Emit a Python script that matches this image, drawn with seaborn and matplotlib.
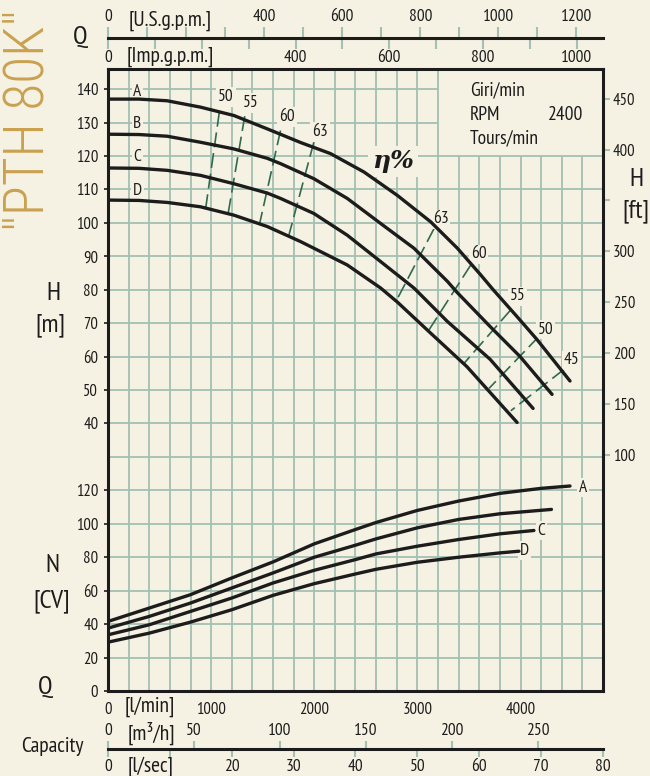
import numpy as np
import pandas as pd
import matplotlib
matplotlib.use("Agg")
import matplotlib.pyplot as plt
import seaborn as sns
from matplotlib import font_manager

# ---------------- data ----------------
curve_names = ["A", "B", "C", "D"]

# Head curves H [m] vs Q [l/min]
A_Q = [0, 300, 573, 896, 1220, 1544, 1869, 2158, 2482, 2806, 3129, 3388, 3615, 3735, 3965, 4160, 4480]
A_H = [137.0, 137.0, 136.5, 134.6, 132.1, 128.1, 124.0, 120.7, 115.2, 108.2, 100.3, 92.4, 84.4, 80.0, 72.0, 65.1, 52.7]
B_Q = [0, 300, 573, 896, 1220, 1544, 1673, 1996, 2320, 2644, 2967, 3291, 3385, 3705, 3996, 4306]
B_H = [126.5, 126.4, 125.9, 124.1, 122.1, 119.3, 117.7, 113.2, 107.3, 99.8, 92.4, 82.5, 79.2, 69.0, 60.0, 48.7]
C_Q = [0, 300, 573, 896, 1220, 1544, 1673, 1996, 2320, 2644, 2967, 3291, 3705, 4122]
C_H = [116.4, 116.3, 115.7, 114.2, 111.7, 108.9, 107.3, 102.8, 96.3, 88.4, 80.5, 70.5, 59.2, 44.5]
D_Q = [0, 300, 573, 896, 1220, 1544, 1867, 2320, 2644, 2806, 3129, 3480, 3967]
D_H = [106.8, 106.7, 106.1, 104.8, 102.3, 98.9, 94.4, 87.4, 80.5, 76.3, 67.0, 57.0, 40.3]

# Power curves N [CV] vs Q [l/min]
NA_Q = [0, 400, 800, 1200, 1600, 2000, 2400, 2600, 3000, 3400, 3800, 4200, 4480]
NA_N = [41.6, 49.6, 57.6, 67.6, 77.2, 88.0, 96.6, 100.8, 108.0, 113.6, 118.2, 121.2, 122.6]
NB_Q = [0, 400, 800, 1200, 1600, 2000, 2400, 2600, 3000, 3400, 3800, 4300]
NB_N = [37.6, 44.6, 52.6, 61.6, 70.6, 80.0, 87.2, 91.0, 97.6, 102.6, 106.0, 108.6]
NC_Q = [0, 400, 800, 1200, 1600, 2000, 2400, 2600, 3000, 3400, 3800, 4130]
NC_N = [33.6, 39.6, 47.6, 55.6, 64.6, 72.2, 78.6, 82.0, 86.6, 90.6, 94.0, 96.0]
ND_Q = [0, 400, 800, 1200, 1600, 2000, 2400, 2600, 3000, 3400, 3800, 3985]
ND_N = [29.2, 34.6, 41.2, 48.6, 57.2, 64.2, 70.0, 72.8, 77.0, 80.0, 82.6, 83.6]

# Efficiency iso-lines (eta %): (Q top, Q bottom), (H top, H bottom)
eta_values = [50, 55, 60, 63, 63, 60, 55, 50, 45]
eta_Q = [(1080, 948), (1326, 1165), (1673, 1472), (1996, 1754),
         (3162, 2789), (3518, 3113), (3906, 3453), (4181, 3695), (4423, 3906)]
eta_H = [(133.2, 104.5), (131.9, 102.8), (127.6, 100.0), (124.1, 96.3),
         (98.3, 76.3), (87.4, 68.0), (74.0, 58.0), (66.1, 50.5), (56.2, 43.8)]

# Axis ticks
H_ticks = [40, 50, 60, 70, 80, 90, 100, 110, 120, 130, 140]
N_ticks = [0, 20, 40, 60, 80, 100, 120]
ft_ticks = [100, 150, 200, 250, 300, 350, 400, 450]
ft_labels = ["100", "150", "200", "250", "300", "", "400", "450"]
lmin_ticks = [0, 1000, 2000, 3000, 4000]
usgpm_ticks = list(range(0, 1300, 100))
usgpm_labels = ["0", "", "", "", "400", "", "600", "", "800", "", "1000", "", "1200"]
impgpm_ticks = list(range(0, 1100, 100))
impgpm_labels = ["0", "", "", "", "400", "", "600", "", "800", "", "1000"]
m3h_ticks = [0, 50, 100, 150, 200, 250]
m3h_labels = ["0", "50", "100", "150", "200", "250"]
ls_ticks = [0, 10, 20, 30, 40, 50, 60, 70, 80]
ls_labels = ["0", "", "20", "30", "40", "50", "60", "70", "80"]

# ---------------- style ----------------
BG = "#F6F2E3"
GRID = "#A2C0B3"
ISO = "#2F6A4E"
INK = "#1C1C1C"
GOLD = "#C9A14F"

sns.set_theme(style="white", rc={"figure.facecolor": BG, "axes.facecolor": BG,
                                 "savefig.facecolor": BG})
names = {f.name for f in font_manager.fontManager.ttflist}
FONT = next((f for f in ["PT Sans Narrow", "Roboto Condensed", "Fira Sans Condensed",
                         "Open Sans Condensed"] if f in names), "DejaVu Sans")
TFONT = next((f for f in ["Roboto Condensed", "Fira Sans Condensed", "Saira Condensed"]
              if f in names), FONT)
plt.rcParams["font.family"] = [FONT, "DejaVu Sans"]
plt.rcParams["text.color"] = INK

W, Hpx = 650, 776
fig = plt.figure(figsize=(W / 100, Hpx / 100), dpi=100)


def fx(x):
    return x / W


def fy(y):
    return 1 - y / Hpx


L, R, T, B = 108, 603, 69, 691
ax = fig.add_axes([fx(L), fy(B), (R - L) / W, (B - T) / Hpx])
ax.set_xlim(0, 4800)
ax.set_ylim(-40, 146)
ax.set_facecolor(BG)

# grid (blank box top-right)
for q in range(200, 4800, 200):
    ax.vlines(q, -40, 146 if q <= 3200 else 120, color=GRID, lw=1.3, zorder=1)
for h in range(-30, 146, 10):
    ax.hlines(h, 0, 3200 if h > 120 else 4800, color=GRID, lw=1.3, zorder=1)

# head curves
dfH = pd.concat([
    pd.DataFrame({"Q": q, "H": h, "curve": n})
    for n, q, h in zip(curve_names, [A_Q, B_Q, C_Q, D_Q], [A_H, B_H, C_H, D_H])
])
sns.lineplot(data=dfH, x="Q", y="H", hue="curve", palette=[INK] * 4, lw=2.4,
             legend=False, ax=ax, estimator=None, sort=False, zorder=4)

# efficiency iso-lines
for qq, hh in zip(eta_Q, eta_H):
    ax.plot(qq, hh, color=ISO, lw=1.2, ls=(0, (9, 3.5)), zorder=3)

# power curves on twin axis
axn = ax.twinx()
axn.set_ylim(0, 2 * (146 + 40))
dfN = pd.concat([
    pd.DataFrame({"Q": q, "N": n_, "curve": n})
    for n, q, n_ in zip(curve_names, [NA_Q, NB_Q, NC_Q, ND_Q], [NA_N, NB_N, NC_N, ND_N])
])
sns.lineplot(data=dfN, x="Q", y="N", hue="curve", palette=[INK] * 4, lw=2.4,
             legend=False, ax=axn, estimator=None, sort=False, zorder=4)
axn.set_xlabel("")
axn.set_ylabel("")
for s in axn.spines.values():
    s.set_visible(False)
axn.yaxis.set_ticks_position("left")
axn.set_yticks(N_ticks)
axn.set_yticklabels([str(v) for v in N_ticks])
axn.tick_params(axis="y", left=True, labelleft=True, right=False, labelright=False,
                length=3, width=1.2, color=INK, pad=4, labelsize=12, labelcolor=INK)

# main axis ticks
ax.set_yticks(H_ticks)
ax.set_yticklabels([str(v) for v in H_ticks])
ax.tick_params(axis="y", left=True, length=3, width=1.2, color=INK, pad=4,
               labelsize=12, labelcolor=INK)
ax.set_xticks(lmin_ticks)
ax.set_xticklabels([str(v) for v in lmin_ticks])
ax.tick_params(axis="x", bottom=True, length=0, pad=8, labelsize=12, labelcolor=INK)
ax.set_xlabel("")
ax.set_ylabel("")
for s in ax.spines.values():
    s.set_visible(True)
    s.set_color(INK)
    s.set_linewidth(2.2)
    s.set_zorder(6)

# right ft axis
sec = ax.secondary_yaxis("right", functions=(lambda m: m / 0.3048, lambda f: f * 0.3048))
sec.set_yticks(ft_ticks)
sec.set_yticklabels(ft_labels)
sec.tick_params(axis="y", length=5, width=1.5, color=GRID, pad=2, labelsize=12, labelcolor=INK)
sec.spines["right"].set_visible(False)

# top Q scale
axq = fig.add_axes([fx(L), fy(38), (R - L) / W, 0.00001])
axq.set_xlim(0, 4800)
axq.set_yticks([])
axq.set_xticks([])
axq.patch.set_visible(False)
for k in ["top", "left", "right"]:
    axq.spines[k].set_visible(False)
axq.spines["bottom"].set_color(INK)
axq.spines["bottom"].set_linewidth(2.2)
US = 3.78541
IMP = 4.54609
secu = axq.secondary_xaxis("top", functions=(lambda q: q / US, lambda g: g * US))
secu.set_xticks(usgpm_ticks)
secu.set_xticklabels(usgpm_labels)
secu.tick_params(length=8, width=1.5, color=GRID, pad=1, labelsize=12.5, labelcolor=INK)
secu.spines["top"].set_visible(False)
seci = axq.secondary_xaxis("bottom", functions=(lambda q: q / IMP, lambda g: g * IMP))
seci.set_xticks(impgpm_ticks)
seci.set_xticklabels(impgpm_labels)
seci.tick_params(length=8, width=1.5, color=GRID, pad=1, labelsize=12.5, labelcolor=INK)
seci.spines["bottom"].set_visible(False)

# bottom capacity scale
axc = fig.add_axes([fx(L), fy(749), (R - L) / W, 0.00001])
axc.set_xlim(0, 4800)
axc.set_yticks([])
axc.set_xticks([])
axc.patch.set_visible(False)
for k in ["top", "left", "right"]:
    axc.spines[k].set_visible(False)
axc.spines["bottom"].set_color(INK)
axc.spines["bottom"].set_linewidth(2.2)
secm = axc.secondary_xaxis("top", functions=(lambda q: q * 0.06, lambda m: m / 0.06))
secm.set_xticks(m3h_ticks)
secm.set_xticklabels(m3h_labels)
secm.tick_params(length=6, width=1.5, color=GRID, pad=1, labelsize=12.5, labelcolor=INK)
secm.spines["top"].set_visible(False)
secl = axc.secondary_xaxis("bottom", functions=(lambda q: q / 60, lambda s: s * 60))
secl.set_xticks(ls_ticks)
secl.set_xticklabels(ls_labels)
secl.tick_params(length=6, width=1.5, color=GRID, pad=1, labelsize=12.5, labelcolor=INK)
secl.spines["bottom"].set_visible(False)

# ---------------- texts ----------------
box = dict(boxstyle="square,pad=0.1", fc=BG, ec="none")
for n, hy in zip(curve_names, [139.2, 129.5, 119.7, 109.5]):
    ax.text(285, hy, n, ha="center", va="center", fontsize=12.5, bbox=box, zorder=3.5)

eta_lab_pos = [(1144, 137.6), (1387, 135.8), (1736, 131.6), (2056, 127.1),
               (3225, 101.0), (3595, 90.6), (3972, 78.0), (4245, 68.1), (4497, 58.9)]
for v, (qx, hy) in zip(eta_values, eta_lab_pos):
    ax.text(qx, hy, str(v), ha="center", va="center", fontsize=12.5, bbox=box, zorder=3.5)

ax.text(2764, 118.4, "η%", ha="center", va="center", fontsize=18, fontweight="bold",
        fontstyle="italic", family=["DejaVu Serif"],
        bbox=dict(boxstyle="square,pad=0.15", fc=BG, ec="none"), zorder=3.5)

for n, qx, nv in [("A", 4607, 121.6), ("C", 4205, 95.9), ("D", 4040, 84.0)]:
    axn.text(qx, nv, n, ha="center", va="center", fontsize=12.5, bbox=box, zorder=3.5)

ax.text(3510, 139.7, "Giri/min", ha="left", va="center", fontsize=14)
ax.text(3510, 132.2, "RPM", ha="left", va="center", fontsize=14)
ax.text(4607, 132.2, "2400", ha="right", va="center", fontsize=14)
ax.text(3510, 125.2, "Tours/min", ha="left", va="center", fontsize=14)

title = fig.text(fx(28), fy(120), '"PTH 80K"', rotation=90, ha="center", va="center",
                 fontsize=42, color=GOLD, family=[TFONT, FONT], fontweight="light")
fig.canvas.draw()
bb = title.get_window_extent()
title.set_fontsize(42 * 222 / bb.height)

fig.text(fx(80), fy(38), "Q", ha="center", va="center", fontsize=19)
fig.text(fx(170), fy(21), "[U.S.g.p.m.]", ha="center", va="center", fontsize=15.5)
fig.text(fx(170), fy(57), "[Imp.g.p.m.]", ha="center", va="center", fontsize=15.5)
fig.text(fx(53), fy(294), "H", ha="center", va="center", fontsize=19)
fig.text(fx(50), fy(325), "[m]", ha="center", va="center", fontsize=19)
fig.text(fx(52), fy(565), "N", ha="center", va="center", fontsize=19)
fig.text(fx(52), fy(601), "[CV]", ha="center", va="center", fontsize=19)
fig.text(fx(636), fy(180), "H", ha="center", va="center", fontsize=19)
fig.text(fx(636), fy(211), "[ft]", ha="center", va="center", fontsize=19)
fig.text(fx(45), fy(688), "Q", ha="center", va="center", fontsize=19)
fig.text(fx(150), fy(707), "[l/min]", ha="center", va="center", fontsize=15.5)
fig.text(fx(151), fy(733), "[m³/h]", ha="center", va="center", fontsize=15.5)
fig.text(fx(151), fy(767), "[l/sec]", ha="center", va="center", fontsize=15.5)
fig.text(fx(52), fy(747), "Capacity", ha="center", va="center", fontsize=15.5)

fig.savefig("out.png", dpi=100, facecolor=BG)
